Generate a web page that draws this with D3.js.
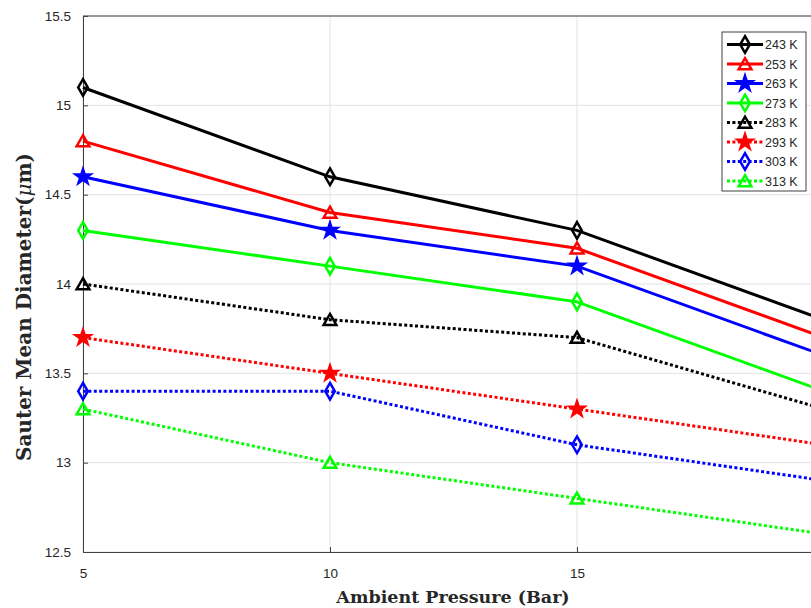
<!DOCTYPE html>
<html>
<head>
<meta charset="utf-8">
<script src="https://cdn.jsdelivr.net/npm/d3@7"></script>
<style>
  body { margin: 0; background: #fff; }
  svg { display: block; }
  .tick text { font-family: "Liberation Sans", Arial, sans-serif; font-size: 13.5px; fill: #262626; }
</style>
</head>
<body>
<div id="chart"></div>
<script>
// pressures (Bar) and one series per ambient temperature
var pressures = [5, 10, 15, 20];
var temps = ["243 K", "253 K", "263 K", "273 K", "283 K", "293 K", "303 K", "313 K"];
var d243 = [15.1, 14.6, 14.3, 13.8];
var d253 = [14.8, 14.4, 14.2, 13.7];
var d263 = [14.6, 14.3, 14.1, 13.6];
var d273 = [14.3, 14.1, 13.9, 13.4];
var d283 = [14.0, 13.8, 13.7, 13.3];
var d293 = [13.7, 13.5, 13.3, 13.1];
var d303 = [13.4, 13.4, 13.1, 12.9];
var d313 = [13.3, 13.0, 12.8, 12.6];
var yTicks = [12.5, 13, 13.5, 14, 14.5, 15, 15.5];
var xTicks = [5, 10, 15];   // 20 falls just outside the window

var seriesVals = [d243, d253, d263, d273, d283, d293, d303, d313];
var colors = ["#000000", "#ff0000", "#0000ff", "#00ff00", "#000000", "#ff0000", "#0000ff", "#00ff00"];
var shapes = ["diamond", "triangle", "star", "diamond", "triangle", "star", "diamond", "triangle"];
var dotted = [false, false, false, false, true, true, true, true];

var series = temps.map(function(t, i) {
  return {name: t, color: colors[i], shape: shapes[i], dotted: dotted[i],
          values: pressures.map(function(p, j) { return {x: p, y: seriesVals[i][j]}; })};
});

var width = 811, height = 608;
// plot box runs past the right edge of the window, like the reference
var margin = {top: 16, left: 83, bottom: 56};
var plotW = 741, plotH = height - margin.top - margin.bottom;

var svg = d3.select("#chart").append("svg")
  .attr("width", width)
  .attr("height", height);

var g = svg.append("g")
  .attr("transform", "translate(" + margin.left + "," + margin.top + ")");

var x = d3.scaleLinear().domain([5, 20]).range([0, plotW]);
var y = d3.scaleLinear().domain([12.5, 15.5]).range([plotH, 0]);

// grid
g.selectAll(".ygrid").data(yTicks).enter().append("line")
  .attr("x1", 0).attr("x2", plotW)
  .attr("y1", d => y(d)).attr("y2", d => y(d))
  .style("stroke", "#e3e3e3").style("stroke-width", 1);
g.selectAll(".xgrid").data(xTicks).enter().append("line")
  .attr("y1", 0).attr("y2", plotH)
  .attr("x1", d => x(d)).attr("x2", d => x(d))
  .style("stroke", "#e3e3e3").style("stroke-width", 1);

// axes (MATLAB style, ticks inward)
var yAxis = d3.axisLeft(y).tickValues(yTicks).tickSizeInner(-5).tickSizeOuter(0).tickPadding(12)
  .tickFormat(d3.format("~g"));
var xAxis = d3.axisBottom(x).tickValues(xTicks).tickSizeInner(-5).tickSizeOuter(0).tickPadding(16);

var ya = g.append("g").call(yAxis);
var xa = g.append("g").attr("transform", "translate(0," + plotH + ")").call(xAxis);
[ya, xa].forEach(function(a) {
  a.select(".domain").style("stroke", "#404040").style("stroke-width", 1);
  a.selectAll(".tick line").style("stroke", "#404040");
});
g.append("line").attr("x1", 0).attr("x2", plotW).attr("y1", 0).attr("y2", 0)
  .style("stroke", "#404040");

// markers
var sym = {
  diamond: d3.symbol().type(d3.symbolDiamond).size(80),
  triangle: d3.symbol().type(d3.symbolTriangle).size(70),
  star: d3.symbol().type(d3.symbolStar).size(65)
};

var line = d3.line().x(d => x(d.x)).y(d => y(d.y));

var sg = g.selectAll(".series").data(series).enter().append("g");
sg.append("path")
  .attr("d", d => line(d.values))
  .style("fill", "none")
  .style("stroke", d => d.color)
  .style("stroke-width", 3)
  .style("stroke-dasharray", d => d.dotted ? "3,2.4" : null);

sg.each(function(s) {
  d3.select(this).selectAll(".mk").data(s.values).enter().append("path")
    .attr("transform", d => "translate(" + x(d.x) + "," + (y(d.y) + (s.shape === "triangle" ? 1.5 : 0)) + ")")
    .attr("d", sym[s.shape]())
    .style("fill", s.shape === "star" ? s.color : "none")
    .style("stroke", s.color)
    .style("stroke-width", 2.5)
    .style("stroke-linejoin", "miter");
});

// legend
var lg = svg.append("g").attr("transform", "translate(722,32)");
lg.append("rect").attr("width", 84).attr("height", 159)
  .style("fill", "#fff").style("stroke", "#404040").style("stroke-width", 1);

var row = lg.selectAll(".row").data(series).enter().append("g")
  .attr("transform", (d, i) => "translate(0," + (12.5 + i * 19.5) + ")");
row.append("line").attr("x1", 5).attr("x2", 41).attr("y1", 0).attr("y2", 0)
  .style("stroke", d => d.color).style("stroke-width", 3)
  .style("stroke-dasharray", d => d.dotted ? "3,2.4" : null);
row.append("path")
  .attr("transform", d => "translate(23," + (d.shape === "triangle" ? 1.5 : 0) + ")")
  .attr("d", d => sym[d.shape]())
  .style("fill", d => d.shape === "star" ? d.color : "none")
  .style("stroke", d => d.color)
  .style("stroke-width", 2.5);
row.append("text").attr("x", 43).attr("y", 4.5)
  .text(d => d.name)
  .style("font-family", "Liberation Sans, Arial, sans-serif")
  .style("font-size", "12.5px")
  .style("fill", "#262626");

// axis titles
svg.append("text")
  .attr("x", 453).attr("y", 603)
  .attr("text-anchor", "middle")
  .style("font-family", "DejaVu Serif, serif")
  .style("font-weight", "bold")
  .style("font-size", "17.5px")
  .style("fill", "#262626")
  .text("Ambient Pressure (Bar)");

var yl = svg.append("text")
  .attr("transform", "translate(31,307) rotate(-90)")
  .attr("text-anchor", "middle")
  .style("font-family", "DejaVu Serif, serif")
  .style("font-weight", "bold")
  .style("font-size", "20px")
  .style("fill", "#262626");
yl.append("tspan").text("Sauter Mean Diameter(");
yl.append("tspan").style("font-style", "italic").style("font-weight", "normal").text("\u03bc");
yl.append("tspan").text("m)");
</script>
</body>
</html>
